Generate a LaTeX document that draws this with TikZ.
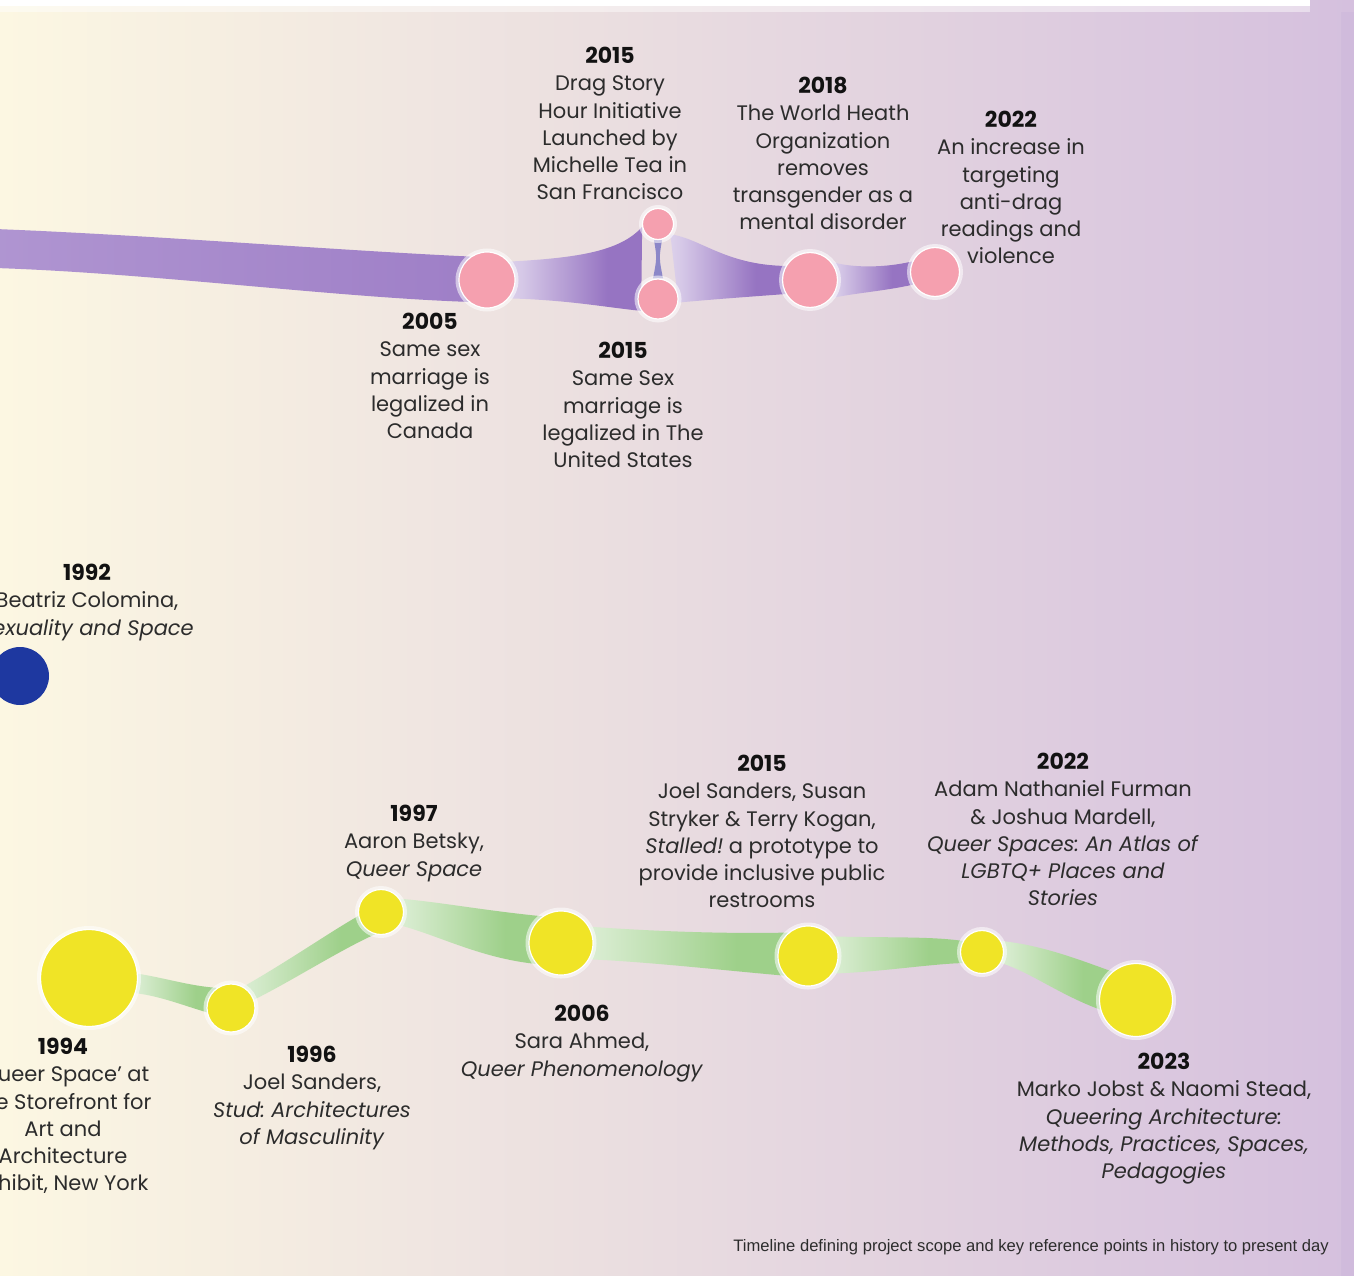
\documentclass[tikz,border=0pt]{standalone}
\usepackage{fontspec}
\setmainfont{Poppins}
\newfontfamily\capfont{Liberation Sans}
\usetikzlibrary{calc}
\pgfdeclarelayer{bgimg}
\pgfdeclarelayer{bandlayer}
\pgfsetlayers{bgimg,bandlayer,main}
\frenchspacing

\definecolor{bgL}{RGB}{252,247,226}
\definecolor{bgM}{RGB}{244,233,224}
\definecolor{bgR}{RGB}{213,192,222}
\definecolor{pinkc}{RGB}{245,160,175}
\definecolor{bandP}{RGB}{150,116,194}
\definecolor{bandPL}{RGB}{184,160,214}
\definecolor{neckc}{RGB}{140,135,200}
\definecolor{bandG}{RGB}{158,208,138}
\definecolor{yelc}{RGB}{240,228,38}
\definecolor{bluec}{RGB}{30,56,160}
\definecolor{textc}{RGB}{44,44,44}
\definecolor{yearc}{RGB}{18,18,18}

\pgfdeclarehorizontalshading{pband}{100bp}{color(0bp)=(white); color(30bp)=(bandP!40!white); color(62bp)=(bandP); color(100bp)=(bandP)}
\pgfdeclarehorizontalshading{gband}{100bp}{color(0bp)=(white); color(30bp)=(bandG!45!white); color(62bp)=(bandG); color(100bp)=(bandG)}
\pgfdeclarehorizontalshading{plong}{100bp}{color(0bp)=(bandPL); color(100bp)=(bandP)}

\newcommand\yearlbl[1]{{\fontsize{22}{27.2}\selectfont\bfseries\color{yearc}#1}}

\begin{document}
\begin{tikzpicture}[x=1pt,y=-1pt,
  dot/.style={circle, inner sep=0pt, preaction={draw=white, line width=7pt, opacity=0.55}, draw=white, line width=1.2pt},
  pinkdot/.style={dot, fill=pinkc},
  yeldot/.style={dot, fill=yelc},
  bluedot/.style={circle, inner sep=0pt, fill=bluec},
  lbl/.style={align=center, inner sep=0pt, anchor=north, text=textc, font=\fontsize{21}{27.2}\selectfont},
  capstyle/.style={inner sep=0pt, anchor=base east, text=textc, font=\capfont\fontsize{16.6}{19}\selectfont}
]
\useasboundingbox (0,0) rectangle (1354,1276);

\begin{pgfonlayer}{bgimg}
  \shade[left color=bgL, middle color=bgM, right color=bgR] (0,0) rectangle (1354,1276);
  \fill[white] (0,0) rectangle (1310,6);
  \fill[white, opacity=0.45] (0,6) rectangle (1310,12);
  \fill[bandPL, opacity=0.15] (1341,12) rectangle (1354,1276);
\end{pgfonlayer}

% ---- circles (top) ----
\node[pinkdot, minimum size=56pt] (c2005) at (487,280) {};
\node[pinkdot, minimum size=31pt] (c2015a) at (658,224) {};
\node[pinkdot, minimum size=40pt] (c2015b) at (658,299) {};
\node[pinkdot, minimum size=55pt] (c2018) at (810,280) {};
\node[pinkdot, minimum size=49pt] (c2022a) at (935,272) {};
% ---- middle ----
\node[bluedot, minimum size=58pt] (c1992) at (20,676) {};
% ---- circles (bottom) ----
\node[yeldot, minimum size=97pt] (c1994) at (89,978) {};
\node[yeldot, minimum size=48pt] (c1996) at (231,1008) {};
\node[yeldot, minimum size=45pt] (c1997) at (381,912) {};
\node[yeldot, minimum size=64pt] (c2006) at (561,943) {};
\node[yeldot, minimum size=60pt] (c2015) at (808,956) {};
\node[yeldot, minimum size=43pt] (c2022b) at (982,952) {};
\node[yeldot, minimum size=73pt] (c2023) at (1136,1000) {};

% ---- bands ----
\begin{pgfonlayer}{bandlayer}
  \coordinate (lstartT) at (-5,229);
  \coordinate (lstartB) at (-5,268);
  \shade[shading=plong] (lstartT) .. controls (150,235) and (330,250) .. (c2005.125) -- (c2005.230) .. controls (330,297) and (150,273) .. (lstartB) -- cycle;
  \shade[shading=pband] (c2005.40) .. controls (575,258) and (620,252) .. (c2015a.190) -- (c2015b.215) .. controls (610,308) and (570,300) .. (c2005.-40) -- cycle;
  \fill[neckc] ($(c2015a.south)+(-4,0)$) .. controls (657,258) .. ($(c2015b.north)+(-5,0)$) -- ($(c2015b.north)+(5,0)$) .. controls (659,258) .. ($(c2015a.south)+(4,0)$) -- cycle;
  \shade[shading=pband] (c2015a.-40) .. controls (700,238) and (725,265) .. (c2018.150) -- (c2018.210) .. controls (745,297) and (705,300) .. (c2015b.-10) -- cycle;
  \shade[shading=pband] (c2018.40) .. controls (852,268) and (885,268) .. (c2022a.155) -- (c2022a.210) .. controls (885,291) and (855,293) .. (c2018.-40) -- cycle;

  \shade[shading=gband] (c1994.5) .. controls (165,978) and (190,986) .. (c1996.125) -- (c1996.190) .. controls (185,1006) and (160,996) .. (c1994.-18) -- cycle;
  \shade[shading=gband] (c1996.60) .. controls (290,960) and (330,932) .. (c1997.190) -- (c1997.255) .. controls (340,950) and (290,982) .. (c1996.20) -- cycle;
  \shade[shading=gband] (c1997.35) .. controls (440,902) and (480,910) .. (c2006.125) -- (c2006.220) .. controls (480,958) and (440,936) .. (c1997.-35) -- cycle;
  \shade[shading=gband] (c2006.30) .. controls (650,931) and (720,934) .. (c2015.130) -- (c2015.220) .. controls (720,970) and (650,962) .. (c2006.-30) -- cycle;
  \shade[shading=gband] (c2015.40) .. controls (880,938) and (930,936) .. (c2022b.150) -- (c2022b.210) .. controls (930,964) and (880,972) .. (c2015.-35) -- cycle;
  \shade[shading=gband] (c2022b.30) .. controls (1040,945) and (1075,958) .. (c2023.130) -- (c2023.195) .. controls (1060,995) and (1030,972) .. (c2022b.-30) -- cycle;
\end{pgfonlayer}

% ---- labels ----
\node[lbl] (t2015a) at (610,47) {\yearlbl{2015}\\Drag Story\\Hour Initiative\\Launched by\\Michelle Tea in\\San Francisco};
\node[lbl] (t2018) at (823,77) {\yearlbl{2018}\\The World Heath\\Organization\\removes\\transgender as a\\mental disorder};
\node[lbl] (t2022a) at (1011,111) {\yearlbl{2022}\\An increase in\\targeting\\anti-drag\\readings and\\violence};
\node[lbl] (t2005) at (430,313) {\yearlbl{2005}\\Same sex\\marriage is\\legalized in\\Canada};
\node[lbl] (t2015b) at (623,342) {\yearlbl{2015}\\Same Sex\\marriage is\\legalized in The\\United States};
\node[lbl] (t1992) at (87,564) {\yearlbl{1992}\\Beatriz Colomina,\\\textit{Sexuality and Space}};
\node[lbl] (t1997) at (414,805) {\yearlbl{1997}\\Aaron Betsky,\\\textit{Queer Space}};
\node[lbl] (t2015c) at (762,755) {\yearlbl{2015}\\Joel Sanders, Susan\\Stryker \& Terry Kogan,\\\textit{Stalled!} a prototype to\\provide inclusive public\\restrooms};
\node[lbl] (t2022b) at (1063,753) {\yearlbl{2022}\\Adam Nathaniel Furman\\\& Joshua Mardell,\\\textit{Queer Spaces: An Atlas of}\\\textit{LGBTQ+ Places and}\\\textit{Stories}};
\node[lbl] (t1994) at (63,1038) {\yearlbl{1994}\\‘Queer Space’ at\\the Storefront for\\Art and\\Architecture\\Exhibit, New York};
\node[lbl] (t1996) at (312,1046) {\yearlbl{1996}\\Joel Sanders,\\\textit{Stud: Architectures}\\\textit{of Masculinity}};
\node[lbl] (t2006) at (582,1005) {\yearlbl{2006}\\Sara Ahmed,\\\textit{Queer Phenomenology}};
\node[lbl] (t2023) at (1164,1053) {\yearlbl{2023}\\Marko Jobst \& Naomi Stead,\\\textit{Queering Architecture:}\\\textit{Methods, Practices, Spaces,}\\\textit{Pedagogies}};

\node[capstyle] (cap) at (1329,1251) {Timeline defining project scope and key reference points in history to present day};
\end{tikzpicture}
\end{document}
